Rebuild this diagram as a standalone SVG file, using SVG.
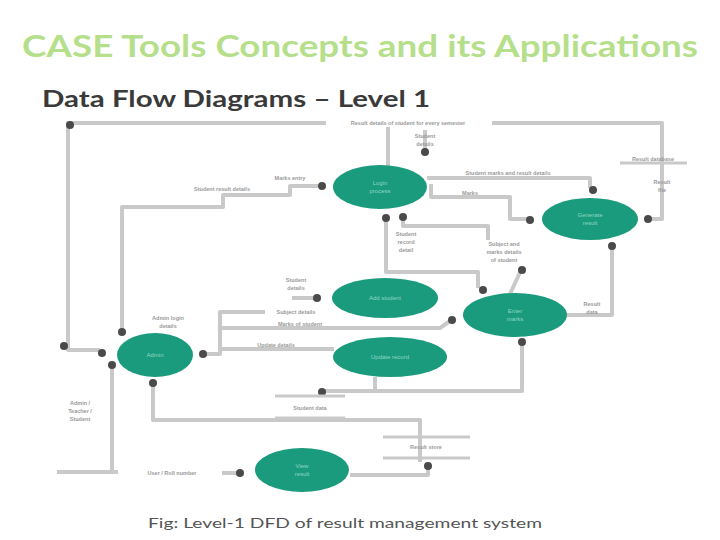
<svg xmlns="http://www.w3.org/2000/svg" width="720" height="540" viewBox="0 0 720 540">
<style>
.title{font-family:Lato,"Open Sans","Liberation Sans",sans-serif;font-weight:bold;font-size:31px;fill:#b6df8c}
.sub{font-family:Lato,"Open Sans","Liberation Sans",sans-serif;font-weight:bold;font-size:23px;fill:#3a3a3a}
.cap{font-family:Lato,"Liberation Sans",sans-serif;font-size:13px;fill:#555555}
.proc{fill:#1b9b7d}
.ptxt{font-family:"Liberation Sans",sans-serif;font-size:6px;fill:#8fd6c2;text-anchor:middle}
.lbl{font-family:"Liberation Sans",sans-serif;font-size:5.5px;fill:#9a9a9a;font-weight:bold}
.c{fill:none;stroke:#c9c9c9;stroke-width:4;stroke-linejoin:round}
.ds{fill:none;stroke:#c9c9c9;stroke-width:3}
.dot{fill:#4a4a4a}
</style>
<rect width="720" height="540" fill="#ffffff"/>
<text class="title" x="22" y="57" textLength="676" lengthAdjust="spacingAndGlyphs">CASE Tools Concepts and its Applications</text>
<text class="sub" x="42" y="107" textLength="388" lengthAdjust="spacingAndGlyphs">Data Flow Diagrams – Level 1</text>

<g id="connectors">
<path class="c" d="M648 219 H662 V123 H492"/>
<path class="c" d="M326 123 H68 V350 H100"/>
<path class="c" d="M388 127 V166"/>
<path class="c" d="M425 130 V150"/>
<path class="c" d="M318 186 H290 V195 H223 V207 H122 V330"/>
<path class="c" d="M427 178 H590 V188"/>
<path class="c" d="M431 184 V197 H510 V219 H528"/>
<path class="c" d="M386 220 V272 H478 V288"/>
<path class="c" d="M403 219 V226 H488 V240"/>
<path class="c" d="M522 268 L510 294"/>
<path class="c" d="M567 315 H612 V248"/>
<path class="c" d="M205 354 H220 V312 H265"/>
<path class="c" d="M292 298 H315"/>
<path class="c" d="M220 328 H440 L450 321"/>
<path class="c" d="M220 349 H334"/>
<path class="c" d="M522 344 V391 H325"/>
<path class="c" d="M375 377 V391"/>
<path class="c" d="M153 385 V420 H420 V462"/>
<path class="c" d="M350 475 H428 V468"/>
<path class="c" d="M112 367 V472"/>
<path class="c" d="M57 472 H118"/>
<path class="c" d="M222 473 H238"/>
<circle class="dot" cx="70" cy="125" r="4"/>
<circle class="dot" cx="64" cy="346" r="4"/>
<circle class="dot" cx="102" cy="353" r="4"/>
<circle class="dot" cx="112" cy="365" r="4"/>
<circle class="dot" cx="122" cy="332" r="4"/>
<circle class="dot" cx="203" cy="354" r="4"/>
<circle class="dot" cx="153" cy="383" r="4"/>
<circle class="dot" cx="322" cy="186" r="4"/>
<circle class="dot" cx="386" cy="218" r="4"/>
<circle class="dot" cx="403" cy="217" r="4"/>
<circle class="dot" cx="425" cy="152" r="4"/>
<circle class="dot" cx="593" cy="190" r="4"/>
<circle class="dot" cx="530" cy="220" r="4"/>
<circle class="dot" cx="648" cy="219" r="4"/>
<circle class="dot" cx="612" cy="246" r="4"/>
<circle class="dot" cx="483" cy="290" r="4"/>
<circle class="dot" cx="522" cy="270" r="4"/>
<circle class="dot" cx="452" cy="320" r="4"/>
<circle class="dot" cx="522" cy="342" r="4"/>
<circle class="dot" cx="317" cy="298" r="4"/>
<circle class="dot" cx="322" cy="392" r="4"/>
<circle class="dot" cx="428" cy="466" r="4"/>
<circle class="dot" cx="240" cy="473" r="4"/>
</g>

<g id="stores">
<path class="ds" d="M620 163 H687"/>
<path class="ds" d="M383 437 H470 M383 458 H470"/>
<path class="ds" d="M275 396 H345 M275 418 H345"/>
</g>

<g id="labels">
<text class="lbl" x="408" y="125" text-anchor="middle">Result details of student for every semester</text>
<text class="lbl" x="425" y="138" text-anchor="middle">Student</text>
<text class="lbl" x="425" y="146" text-anchor="middle">details</text>
<text class="lbl" x="653" y="161" text-anchor="middle">Result database</text>
<text class="lbl" x="662" y="184" text-anchor="middle">Result</text>
<text class="lbl" x="662" y="192" text-anchor="middle">file</text>
<text class="lbl" x="290" y="180" text-anchor="middle">Marks entry</text>
<text class="lbl" x="222" y="191" text-anchor="middle">Student result details</text>
<text class="lbl" x="508" y="175" text-anchor="middle">Student marks and result details</text>
<text class="lbl" x="470" y="195" text-anchor="middle">Marks</text>
<text class="lbl" x="406" y="236" text-anchor="middle">Student</text>
<text class="lbl" x="406" y="244" text-anchor="middle">record</text>
<text class="lbl" x="406" y="252" text-anchor="middle">detail</text>
<text class="lbl" x="504" y="246" text-anchor="middle">Subject and</text>
<text class="lbl" x="504" y="254" text-anchor="middle">marks details</text>
<text class="lbl" x="504" y="262" text-anchor="middle">of student</text>
<text class="lbl" x="592" y="306" text-anchor="middle">Result</text>
<text class="lbl" x="592" y="314" text-anchor="middle">data</text>
<text class="lbl" x="168" y="320" text-anchor="middle">Admin login</text>
<text class="lbl" x="168" y="328" text-anchor="middle">details</text>
<text class="lbl" x="296" y="282" text-anchor="middle">Student</text>
<text class="lbl" x="296" y="290" text-anchor="middle">details</text>
<text class="lbl" x="296" y="314" text-anchor="middle">Subject details</text>
<text class="lbl" x="300" y="326" text-anchor="middle">Marks of student</text>
<text class="lbl" x="276" y="347" text-anchor="middle">Update details</text>
<text class="lbl" x="310" y="410" text-anchor="middle">Student data</text>
<text class="lbl" x="426" y="449" text-anchor="middle">Result store</text>
<text class="lbl" x="80" y="405" text-anchor="middle">Admin /</text>
<text class="lbl" x="80" y="413" text-anchor="middle">Teacher /</text>
<text class="lbl" x="80" y="421" text-anchor="middle">Student</text>
<text class="lbl" x="172" y="475" text-anchor="middle">User / Roll number</text>
</g>

<g id="p1"><ellipse class="proc" cx="380" cy="187" rx="47" ry="22"/><text class="ptxt" x="380" y="185">Login</text><text class="ptxt" x="380" y="193">process</text></g>
<g id="p2"><ellipse class="proc" cx="590" cy="219" rx="48" ry="21"/><text class="ptxt" x="590" y="217">Generate</text><text class="ptxt" x="590" y="225">result</text></g>
<g id="p3"><ellipse class="proc" cx="385" cy="298" rx="53" ry="20"/><text class="ptxt" x="385" y="300">Add student</text></g>
<g id="p4"><ellipse class="proc" cx="515" cy="315" rx="52" ry="22"/><text class="ptxt" x="515" y="313">Enter</text><text class="ptxt" x="515" y="321">marks</text></g>
<g id="p5"><ellipse class="proc" cx="390" cy="357" rx="57" ry="20"/><text class="ptxt" x="390" y="359">Update record</text></g>
<g id="p6"><ellipse class="proc" cx="155" cy="355" rx="38" ry="22"/><text class="ptxt" x="155" y="357">Admin</text></g>
<g id="p7"><ellipse class="proc" cx="302" cy="470" rx="47" ry="22"/><text class="ptxt" x="302" y="468">View</text><text class="ptxt" x="302" y="476">result</text></g>

<text class="cap" x="148" y="528" textLength="394" lengthAdjust="spacingAndGlyphs">Fig: Level-1 DFD of result management system</text>
</svg>
